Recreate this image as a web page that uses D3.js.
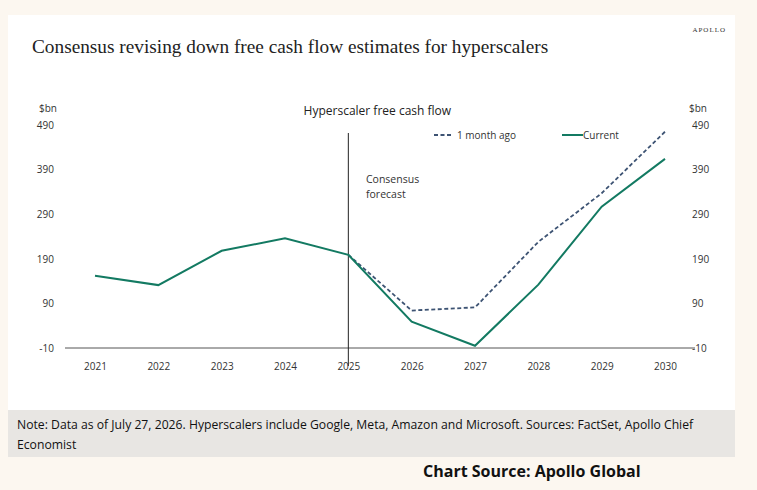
<!DOCTYPE html>
<html><head><meta charset="utf-8">
<script src="https://cdn.jsdelivr.net/npm/d3@7"></script>
<style>body{margin:0;background:#fcf7f0;}svg{display:block;}</style>
</head><body><svg id="c" width="757" height="490"></svg>
<script>
var years = [2021, 2022, 2023, 2024, 2025, 2026, 2027, 2028, 2029, 2030];
var current = [152, 131, 208, 236, 199, 49, -5, 132, 307, 414];
var monthAgoYears = [2025, 2026, 2027, 2028, 2029, 2030];
var monthAgo = [199, 74, 81, 228, 337, 475];
var yTicks = [-10, 90, 190, 290, 390, 490];

var svg = d3.select('#c');
var sans = "'Segoe UI', 'Open Sans', 'DejaVu Sans', sans-serif";
svg.append('rect').attr('x', 8).attr('y', 15).attr('width', 727).attr('height', 395).attr('fill', '#fff');
svg.append('rect').attr('x', 8).attr('y', 410).attr('width', 727).attr('height', 47).attr('fill', '#e8e6e3');

svg.append('text').attr('x', 32).attr('y', 53).attr('font-family', "'Liberation Serif', serif")
  .attr('font-size', 19.3).attr('fill', '#222').text('Consensus revising down free cash flow estimates for hyperscalers');
svg.append('text').attr('x', 726).attr('y', 32).attr('text-anchor', 'end').attr('font-family', "'Liberation Serif', serif")
  .attr('font-size', 7).attr('letter-spacing', 1).attr('fill', '#333').text('APOLLO');

var x = d3.scalePoint().domain(years).range([95, 665]);
var y = d3.scaleLinear().domain([-10, 490]).range([348, 125]);

svg.append('g').attr('transform', 'translate(0,348)')
  .call(d3.axisBottom(x).tickSize(0).tickPadding(15))
  .call(function(g) {
    g.select('.domain').attr('d', 'M65,0H695').attr('stroke', '#555');
    g.selectAll('text').attr('font-family', sans).attr('font-size', 10).attr('fill', '#333');
  });
[[d3.axisLeft(y), 58], [d3.axisRight(y), 688]].forEach(function(a) {
  svg.append('g').attr('transform', 'translate(' + a[1] + ',0)')
    .call(a[0].tickValues(yTicks).tickFormat(function(d) { return String(d); }).tickSize(0).tickPadding(4))
    .call(function(g) {
      g.select('.domain').remove();
      g.selectAll('text').attr('font-family', sans).attr('font-size', 10).attr('fill', '#333');
    });
});
svg.append('text').attr('x', 39).attr('y', 112).attr('font-family', sans).attr('font-size', 10).attr('fill', '#333').text('$bn');
svg.append('text').attr('x', 689).attr('y', 112).attr('font-family', sans).attr('font-size', 10).attr('fill', '#333').text('$bn');

svg.append('line').attr('x1', x(2025)).attr('x2', x(2025)).attr('y1', 133).attr('y2', 366).attr('stroke', '#222').attr('stroke-width', 1);
svg.append('text').attr('x', x(2025) + 29).attr('y', 115).attr('text-anchor', 'middle').attr('font-family', sans)
  .attr('font-size', 12).attr('fill', '#222').text('Hyperscaler free cash flow');
svg.append('text').attr('x', 366).attr('y', 183).attr('font-family', sans).attr('font-size', 10.5).attr('fill', '#333').text('Consensus');
svg.append('text').attr('x', 366).attr('y', 198).attr('font-family', sans).attr('font-size', 10.5).attr('fill', '#333').text('forecast');

var line = d3.line().x(function(d) { return x(d[0]); }).y(function(d) { return y(d[1]); });
svg.append('path').datum(d3.zip(monthAgoYears, monthAgo)).attr('d', line).attr('fill', 'none')
  .attr('stroke', '#3d5373').attr('stroke-width', 1.8).attr('stroke-dasharray', '4,2.5');
svg.append('path').datum(d3.zip(years, current)).attr('d', line).attr('fill', 'none')
  .attr('stroke', '#137a62').attr('stroke-width', 2);

svg.append('line').attr('x1', 434).attr('x2', 453).attr('y1', 135).attr('y2', 135).attr('stroke', '#3d5373').attr('stroke-width', 1.8).attr('stroke-dasharray', '4,2.5');
svg.append('text').attr('x', 457).attr('y', 139).attr('font-family', sans).attr('font-size', 10).attr('fill', '#333').text('1 month ago');
svg.append('line').attr('x1', 562).attr('x2', 583).attr('y1', 135).attr('y2', 135).attr('stroke', '#137a62').attr('stroke-width', 2);
svg.append('text').attr('x', 583).attr('y', 139).attr('font-family', sans).attr('font-size', 10).attr('fill', '#333').text('Current');

svg.append('text').attr('x', 17).attr('y', 429).attr('font-family', sans).attr('font-size', 12.2).attr('fill', '#111')
  .text('Note: Data as of July 27, 2026. Hyperscalers include Google, Meta, Amazon and Microsoft. Sources: FactSet, Apollo Chief');
svg.append('text').attr('x', 17).attr('y', 449).attr('font-family', sans).attr('font-size', 12.2).attr('fill', '#111').text('Economist');
svg.append('text').attr('x', 423).attr('y', 477).attr('font-family', sans).attr('font-size', 16).attr('font-weight', 'bold')
  .attr('fill', '#111').text('Chart Source:  Apollo Global');
</script></body></html>
